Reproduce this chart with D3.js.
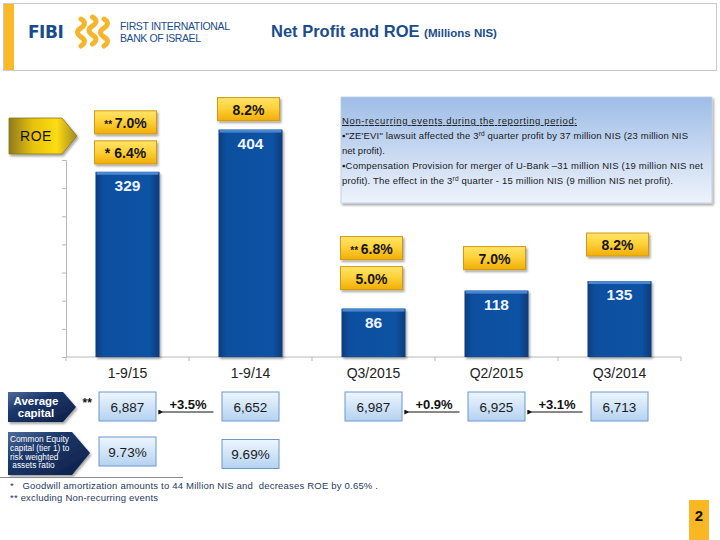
<!DOCTYPE html>
<html>
<head>
<meta charset="utf-8">
<script src="https://cdn.jsdelivr.net/npm/d3@7"></script>
<style>
  html, body { margin: 0; padding: 0; background: #fff; }
  svg { display: block; font-family: "Liberation Sans", Arial, sans-serif; }
</style>
</head>
<body>
<svg id="chart" width="720" height="540"></svg>
<script>
// ---------- DATA ----------
const categories = ["1-9/15", "1-9/14", "Q3/2015", "Q2/2015", "Q3/2014"];
const netProfit = [329, 404, 86, 118, 135];
const roeValue = ["6.4%", "8.2%", "5.0%", "7.0%", "8.2%"];
const roePrefix = ["*", "", "", "", ""];
const roeExclNonRecurring = ["7.0%", null, "6.8%", null, null];
const avgCapital = ["6,887", "6,652", "6,987", "6,925", "6,713"];
const avgCapitalPrefix = ["**", "", "", "", ""];
const capitalChangeLabels = ["+3.5%", "+0.9%", "+3.1%"];
const capitalChangeFrom = [1, 3, 4];
const capitalChangeTo = [0, 2, 3];
const tier1Ratio = ["9.73%", "9.69%", null, null, null];
const yTicks = [0, 50, 100, 150, 200, 250, 300, 350];
const noteTitle = "Non-recurring events during the reporting period:";
const footnotes = ["*   Goodwill amortization amounts to 44 Million NIS and  decreases ROE by 0.65% .",
                   "** excluding Non-recurring events"];

// ---------- SETUP ----------
const svg = d3.select("#chart");
const defs = svg.append("defs");

function linGrad(id, x2, y2, stops) {
  const g = defs.append("linearGradient").attr("id", id)
    .attr("x1", 0).attr("y1", 0).attr("x2", x2).attr("y2", y2);
  stops.forEach(s => g.append("stop").attr("offset", s[0]).attr("stop-color", s[1]));
}
linGrad("barGrad", 1, 0, [[0, "#083c7d"], [0.12, "#0b4f9f"], [0.85, "#0c52a4"], [1, "#083a78"]]);
linGrad("gold", 0, 1, [[0, "#ffe46a"], [0.45, "#ffd23a"], [1, "#f1ad08"]]);
linGrad("roeArrow", 1, 0, [[0, "#8f7a1c"], [0.35, "#e6c20e"], [0.7, "#ffdc12"], [1, "#a08a22"]]);
linGrad("lightBlue", 0, 1, [[0, "#eef6fe"], [1, "#b4d2f1"]]);
linGrad("navy", 1, 1, [[0, "#4e6c9a"], [0.35, "#1b386a"], [1, "#0c1f47"]]);
linGrad("noteGrad", 0, 1, [[0, "#9ebde6"], [0.5, "#c6d8f1"], [1, "#eef3fb"]]);

const sh = defs.append("filter").attr("id", "shadow").attr("x", "-10%").attr("y", "-10%")
  .attr("width", "130%").attr("height", "140%");
sh.append("feDropShadow").attr("dx", 1.5).attr("dy", 2).attr("stdDeviation", 1.3)
  .attr("flood-color", "#000").attr("flood-opacity", 0.35);

defs.append("marker").attr("id", "arrowHead").attr("viewBox", "0 0 6 6")
  .attr("refX", 1).attr("refY", 3).attr("markerWidth", 5).attr("markerHeight", 5)
  .attr("orient", "auto-start-reverse")
  .append("path").attr("d", "M0,3 L6,0 L6,6 Z").attr("fill", "#111");

// ---------- HEADER ----------
const header = svg.append("g");
header.append("rect").attr("x", 3.5).attr("y", 3.5).attr("width", 713).attr("height", 67)
  .attr("fill", "#fff").attr("stroke", "#c9c9c9");
header.append("rect").attr("x", 4).attr("y", 4).attr("width", 10).attr("height", 66).attr("fill", "#fbb829");
header.append("text").attr("x", 28).attr("y", 38).text("FIBI")
  .attr("font-family", "'DejaVu Sans', sans-serif").attr("font-weight", "bold")
  .attr("font-size", 17).attr("fill", "#1a4c8c").attr("letter-spacing", -0.5);
// logo mark: three columns of waves
[0, 1, 2].forEach(c => {
  const x0 = 84 + c * 11.5, y0 = 17 + (c === 1 ? 0 : 2);
  header.append("path")
    .attr("d", `M${x0 - 3},${y0} q7,4 0,9 q-7,4 0,9 q7,4 0,9`)
    .attr("fill", "none").attr("stroke", "#f7b52b").attr("stroke-width", 5)
    .attr("stroke-linecap", "round");
});
header.append("text").attr("x", 120).attr("y", 30).text("FIRST INTERNATIONAL")
  .attr("font-size", 10.5).attr("fill", "#1a4c8c").attr("textLength", 110);
header.append("text").attr("x", 120).attr("y", 42).text("BANK OF ISRAEL")
  .attr("font-size", 10.5).attr("fill", "#1a4c8c").attr("textLength", 81);
const title = header.append("text").attr("x", 271).attr("y", 37).attr("fill", "#1a4d8c").attr("font-weight", "bold");
title.append("tspan").text("Net Profit and ROE ").attr("font-size", 16.5);
title.append("tspan").text("(Millions NIS)").attr("font-size", 11.5);

// ---------- SCALES ----------
const x = d3.scaleBand().domain(categories).range([66, 681]).paddingInner(0.48).paddingOuter(0.24);
const y = d3.scaleLinear().domain([0, 350]).range([357, 160]);

// axes
const yAxis = svg.append("g").attr("transform", "translate(66,0)")
  .call(d3.axisLeft(y).tickValues(yTicks).tickSize(4).tickFormat(""));
yAxis.selectAll("path,line").attr("stroke", "#b8b8b8");
const xAxisG = svg.append("g").attr("transform", "translate(0,357)");
xAxisG.append("line").attr("x1", 66).attr("x2", 681).attr("stroke", "#b8b8b8");
const bounds = categories.map(c => x(c) - x.step() * x.paddingInner() / 2);
bounds.push(681);
xAxisG.selectAll("line.tk").data(bounds).join("line").attr("class", "tk")
  .attr("x1", d => d).attr("x2", d => d).attr("y1", 0).attr("y2", 4).attr("stroke", "#b8b8b8");
xAxisG.selectAll("text").data(categories).join("text")
  .attr("x", d => x(d) + x.bandwidth() / 2).attr("y", 21).attr("text-anchor", "middle")
  .attr("font-size", 14).attr("fill", "#222").text(d => d);

// ---------- BARS ----------
const barData = categories.map((c, i) => ({ c, v: netProfit[i], i }));
const bars = svg.append("g").selectAll("g").data(barData).join("g");
bars.append("rect").attr("x", d => x(d.c)).attr("y", d => y(d.v))
  .attr("width", x.bandwidth()).attr("height", d => y(0) - y(d.v))
  .attr("fill", "url(#barGrad)").attr("filter", "url(#shadow)");
bars.append("rect").attr("x", d => x(d.c) + 1).attr("y", d => y(d.v))
  .attr("width", x.bandwidth() - 2).attr("height", 3).attr("fill", "#4a86cf");
bars.append("text").attr("x", d => x(d.c) + x.bandwidth() / 2).attr("y", d => y(d.v) + 19)
  .attr("text-anchor", "middle").attr("font-size", 15.5).attr("font-weight", "bold")
  .attr("fill", "#eef4ff").text(d => d.v);

// ---------- ROE BOXES ----------
const roeGap = [8, 9, 19, 21, 25];   // spacing above bar tops (layout)
const boxW = 62, boxH = 23;
function goldBox(g, cx, top, prefix, val, prefixSize) {
  g.append("rect").attr("x", cx - boxW / 2).attr("y", top).attr("width", boxW).attr("height", boxH)
    .attr("fill", "url(#gold)").attr("stroke", "#d09a12").attr("stroke-width", 1)
    .attr("filter", "url(#shadow)");
  const t = g.append("text").attr("x", cx).attr("y", top + 17).attr("text-anchor", "middle")
    .attr("font-weight", "bold").attr("fill", "#151515");
  if (prefix) t.append("tspan").text(prefix + " ").attr("font-size", prefixSize);
  t.append("tspan").text(val).attr("font-size", 14);
}
const roeG = svg.append("g");
categories.forEach((c, i) => {
  const cx = x(c) + x.bandwidth() / 2 - 2;
  const mainTop = y(netProfit[i]) - roeGap[i] - boxH;
  goldBox(roeG, cx, mainTop, roePrefix[i], roeValue[i], 14);
  if (roeExclNonRecurring[i]) goldBox(roeG, cx, mainTop - boxH - 7, "**", roeExclNonRecurring[i], 10);
});

// ROE arrow label
const roeLab = svg.append("g");
roeLab.append("path").attr("d", "M9,118 L62,118 L77,136 L62,154 L9,154 Z")
  .attr("fill", "url(#roeArrow)").attr("stroke", "#8a7418").attr("stroke-width", 0.8)
  .attr("filter", "url(#shadow)");
roeLab.append("text").attr("x", 36).attr("y", 141).attr("text-anchor", "middle")
  .attr("font-size", 14).attr("fill", "#111").attr("letter-spacing", 0.5).text("ROE");

// ---------- NOTE BOX ----------
const note = svg.append("g");
note.append("rect").attr("x", 341).attr("y", 97).attr("width", 371).attr("height", 106)
  .attr("fill", "url(#noteGrad)").attr("stroke", "#b9cbe3").attr("stroke-width", 0.8)
  .attr("filter", "url(#shadow)");
const noteLines = [
  { parts: [[noteTitle]], len: 235, underline: true },
  { parts: [["\u25AA\"ZE'EVI\" lawsuit affected the 3"], ["rd", true], [" quarter profit by 37  million NIS (23 million NIS"]], len: 346 },
  { parts: [["net profit)."]], len: null },
  { parts: [["\u25AACompensation Provision for merger of U-Bank \u201331  million NIS (19 million NIS net"]], len: 361 },
  { parts: [["profit).  The effect in the 3"], ["rd", true], ["  quarter - 15 million NIS (9 million NIS net profit)."]], len: 331 }
];
noteLines.forEach((ln, k) => {
  const t = note.append("text").attr("x", 342).attr("y", 124 + k * 15).attr("font-size", 9.5).attr("fill", "#1a1a1a");
  if (ln.len) t.attr("textLength", ln.len).attr("lengthAdjust", "spacing");
  if (ln.underline) t.attr("text-decoration", "underline");
  ln.parts.forEach(p => {
    const ts = t.append("tspan").text(p[0]);
    if (p[1]) ts.attr("font-size", 6.5).attr("dy", -3);
    else if (ts.node().previousSibling) ts.attr("dy", 3);
  });
});

// ---------- AVERAGE CAPITAL ROW ----------
function blueBox(g, cx, top, w, h, label) {
  g.append("rect").attr("x", cx - w / 2).attr("y", top).attr("width", w).attr("height", h)
    .attr("fill", "url(#lightBlue)").attr("stroke", "#6b98cc").attr("stroke-width", 1);
  g.append("text").attr("x", cx).attr("y", top + h / 2 + 5).attr("text-anchor", "middle")
    .attr("font-size", 13.5).attr("fill", "#1a1a1a").text(label);
}
const capG = svg.append("g");
categories.forEach((c, i) => {
  const cx = x(c) + x.bandwidth() / 2;
  blueBox(capG, cx, 392, 57, 29, avgCapital[i]);
  if (avgCapitalPrefix[i]) capG.append("text").attr("x", cx - 45).attr("y", 407)
    .attr("font-size", 12).attr("font-weight", "bold").attr("fill", "#111").text(avgCapitalPrefix[i]);
});
capitalChangeLabels.forEach((lab, k) => {
  const xl = x(categories[capitalChangeTo[k]]) + x.bandwidth() / 2 + 35;
  const xr = x(categories[capitalChangeFrom[k]]) + x.bandwidth() / 2 - 37;
  capG.append("line").attr("x1", xr).attr("x2", xl).attr("y1", 412).attr("y2", 412)
    .attr("stroke", "#111").attr("stroke-width", 1).attr("marker-end", "url(#arrowHead)");
  capG.append("text").attr("x", (xl + xr) / 2).attr("y", 409).attr("text-anchor", "middle")
    .attr("font-size", 13).attr("font-weight", "bold").attr("fill", "#111").text(lab);
});

// tier 1 row
categories.forEach((c, i) => {
  if (!tier1Ratio[i]) return;
  const cx = x(c) + x.bandwidth() / 2;
  blueBox(capG, cx, 437 + i * 2.5, 57, 29, tier1Ratio[i]);
});

// left labels
const lab = svg.append("g");
lab.append("path").attr("d", "M8,392 L63,392 L76,407 L63,422 L8,422 Z").attr("fill", "url(#navy)")
  .attr("filter", "url(#shadow)");
lab.append("text").attr("x", 36).attr("y", 405).attr("text-anchor", "middle").attr("font-size", 11.5)
  .attr("font-weight", "bold").attr("fill", "#fff").text("Average");
lab.append("text").attr("x", 36).attr("y", 417).attr("text-anchor", "middle").attr("font-size", 11.5)
  .attr("font-weight", "bold").attr("fill", "#fff").text("capital");
lab.append("path").attr("d", "M8,432 L72,432 L90,453 L72,475 L8,475 Z").attr("fill", "url(#navy)")
  .attr("filter", "url(#shadow)");
["Common Equity", "capital (tier 1) to", "risk weighted", " assets ratio"].forEach((s, k) => {
  lab.append("text").attr("x", 10).attr("y", 442 + k * 8.8).attr("font-size", 8.3)
    .attr("fill", "#fff").attr("xml:space", "preserve").text(s);
});

// separator & footnotes
svg.append("line").attr("x1", 0).attr("x2", 183).attr("y1", 477.5).attr("y2", 477.5)
  .attr("stroke", "#8c8c8c").attr("stroke-width", 1);
const footLen = [368, 148];
footnotes.forEach((f, k) => {
  svg.append("text").attr("x", 10).attr("y", 489 + k * 12).attr("font-size", 9.5)
    .attr("fill", "#1f3a5c").attr("xml:space", "preserve")
    .attr("textLength", footLen[k]).attr("lengthAdjust", "spacing").text(f);
});

// page number
svg.append("rect").attr("x", 689).attr("y", 500).attr("width", 20).attr("height", 40).attr("fill", "#f9b823");
svg.append("text").attr("x", 699).attr("y", 521).attr("text-anchor", "middle").attr("font-size", 15)
  .attr("font-weight", "bold").attr("fill", "#111").text("2");
</script>
</body>
</html>
